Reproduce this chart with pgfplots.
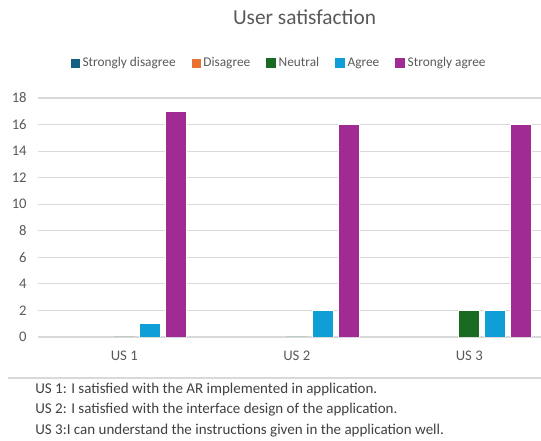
\documentclass[border=0pt]{standalone}
\usepackage{pgfplots}
\pgfplotsset{compat=1.18}
\usepackage{fontspec}
\setmainfont{Carlito}
\definecolor{cSD}{HTML}{156082}
\definecolor{cD}{HTML}{E97132}
\definecolor{cN}{HTML}{196B24}
\definecolor{cA}{HTML}{0F9ED5}
\definecolor{cSA}{HTML}{A02B93}
\definecolor{txt}{HTML}{595959}
\definecolor{foot}{HTML}{404040}
\definecolor{gridc}{HTML}{D9D9D9}
\begin{document}
\begin{tikzpicture}
\useasboundingbox (0,0) rectangle (405.75pt,330.75pt);
\clip (0,0) rectangle (405.75pt,330.75pt);
\begin{axis}[
  at={(28.5pt,78pt)}, anchor=south west,
  scale only axis, width=388.125pt, height=179.25pt,
  xmin=-0.5, xmax=2.5, ymin=0, ymax=18,
  ybar=3.75pt, bar width=15.75pt,
  xtick={0,1,2}, xticklabels={US 1,US 2,US 3},
  ytick={0,2,...,18},
  axis line style={draw=none},
  major tick length=0pt,
  xmajorgrids=false, ymajorgrids=true,
  grid style={color=gridc, line width=0.8pt},
  tick label style={font=\fontsize{11}{13}\selectfont, text=txt},
  /pgf/number format/assume math mode=true,
  yticklabel style={xshift=-5pt},
  xticklabel style={yshift=-7pt},
  legend columns=-1,
  legend style={draw=none, fill=none, font=\fontsize{10}{12}\selectfont, text=txt,
    at={(0.4667,1.146)}, anchor=center,
    /tikz/every even column/.append style={column sep=10pt},
    inner sep=0pt},
  title={User satisfaction},
  title style={font=\fontsize{16}{18}\selectfont, text=txt, at={(0.515,1.276)}, anchor=base},
]
\addplot[draw=none, fill=none, legend image code/.code={\fill[cSD] (0pt,-3.4pt) rectangle (6.8pt,3.4pt);}] coordinates {(0,0) (1,0) (2,0)};
\addplot[draw=none, fill=none, legend image code/.code={\fill[cD] (0pt,-3.4pt) rectangle (6.8pt,3.4pt);}] coordinates {(0,0) (1,0) (2,0)};
\addplot[fill=cN, draw=white, line width=0.5pt, legend image code/.code={\fill[cN] (0pt,-3.4pt) rectangle (6.8pt,3.4pt);}] coordinates {(0,0) (1,0) (2,2)};
\addplot[fill=cA, draw=white, line width=0.5pt, legend image code/.code={\fill[cA] (0pt,-3.4pt) rectangle (6.8pt,3.4pt);}] coordinates {(0,1) (1,2) (2,2)};
\addplot[fill=cSA, draw=white, line width=0.5pt, legend image code/.code={\fill[cSA] (0pt,-3.4pt) rectangle (6.8pt,3.4pt);}] coordinates {(0,17) (1,16) (2,16)};
\legend{Strongly disagree, Disagree, Neutral, Agree, Strongly agree}
\end{axis}
\draw[gridc, line width=0.8pt] (6pt,47.25pt) -- (405.75pt,47.25pt);
\begin{scope}[every node/.style={anchor=base west, inner sep=0pt, text=foot, font=\fontsize{11.25}{13}\selectfont}]
\node at (26.25pt,35.25pt) {US 1: I satisfied with the AR implemented in application.};
\node at (26.25pt,20.25pt) {US 2: I satisfied with the interface design of the application.};
\node at (26.25pt,4.5pt) {US 3:I can understand the instructions given in the application well.};
\end{scope}
\end{tikzpicture}
\end{document}
